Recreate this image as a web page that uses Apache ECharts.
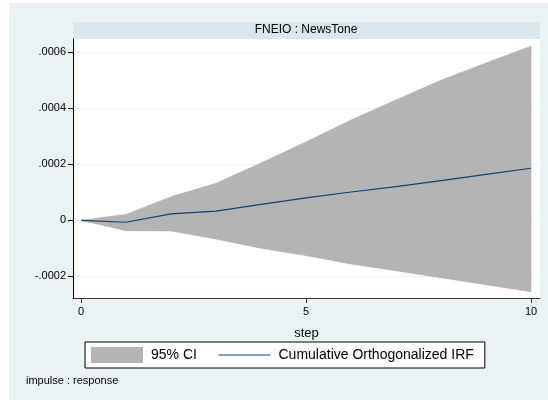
<!DOCTYPE html>
<html>
<head>
<meta charset="utf-8">
<script src="https://cdn.jsdelivr.net/npm/echarts@6/dist/echarts.min.js"></script>
<style>
  html, body { margin: 0; padding: 0; background: #ffffff; }
  #chart { width: 548px; height: 402px; }
</style>
</head>
<body>
<div id="chart"></div>
<script>
// Cumulative orthogonalized impulse response: FNEIO -> NewsTone
const steps = [0, 1, 2, 3, 4, 5, 6, 7, 8, 9, 10];
const irf   = [0, -0.000007, 0.000023, 0.000033, 0.000057, 0.00008, 0.000101, 0.00012, 0.000142, 0.000164, 0.000186];
const ciLow = [0, -0.000037, -0.000038, -0.000067, -0.0001, -0.000126, -0.000156, -0.00018, -0.000205, -0.00023, -0.000255];
const ciHigh = [0, 0.000021, 0.000084, 0.000132, 0.000205, 0.00028, 0.000358, 0.00043, 0.0005, 0.000562, 0.000622];

const yTicks = [-0.0002, 0, 0.0002, 0.0004, 0.0006];
const xTicks = [0, 5, 10];

const panelTitle = 'FNEIO : NewsTone';
const note = 'impulse : response';

const FONT = '"Liberation Sans", Arial, sans-serif';

// Stata-style number label: drop the leading zero
function stataNum(v) {
  if (v === 0) return '0';
  return String(+v.toPrecision(6)).replace(/^(-?)0\./, '$1.');
}

const bandData = steps.map((s, i) => [s, ciLow[i], ciHigh[i]]);
const irfSeries = steps.map((s, i) => [s, irf[i]]);

// Confidence band drawn as one polygon: upper edge forward, lower edge back
function renderBand(params, api) {
  if (params.dataIndex !== 0) return null;
  const upperPts = steps.map((s, i) => api.coord([s, ciHigh[i]]));
  const lowerPts = steps.map((s, i) => api.coord([s, ciLow[i]])).reverse();
  return {
    type: 'polygon',
    shape: { points: upperPts.concat(lowerPts) },
    style: { fill: '#b4b4b4', stroke: '#a9a9a9', lineWidth: 0.6 }
  };
}

const chart = echarts.init(document.getElementById('chart'), null, { renderer: 'canvas' });

chart.setOption({
  backgroundColor: '#ffffff',
  animation: false,
  textStyle: { fontFamily: FONT },
  graphic: [
    {
      type: 'rect', z: -10, silent: true,
      shape: { x: 9, y: 3, width: 539, height: 397 },
      style: { fill: '#eaf2f3' }
    },
    {
      type: 'rect', z: -5, silent: true,
      shape: { x: 73, y: 22, width: 467, height: 17 },
      style: { fill: '#d9e6eb' }
    },
    {
      type: 'text', silent: true,
      x: 26, y: 381,
      style: { text: note, fontSize: 11, fontFamily: FONT, fill: '#000', verticalAlign: 'middle' }
    }
  ],
  title: {
    text: panelTitle,
    left: 306, top: 24,
    textAlign: 'center',
    padding: 0,
    textStyle: { fontSize: 12, fontWeight: 'normal', color: '#000', fontFamily: FONT }
  },
  grid: {
    left: 73, right: 8, top: 39, bottom: 104,
    show: true, backgroundColor: '#ffffff', borderWidth: 0
  },
  legend: {
    left: 85, top: 342,
    orient: 'horizontal',
    padding: [5, 11, 5, 6],
    itemWidth: 52, itemHeight: 16, itemGap: 21,
    backgroundColor: '#ffffff',
    borderColor: '#000000', borderWidth: 1, borderRadius: 0,
    selectedMode: false,
    textStyle: { fontSize: 14, color: '#000', fontFamily: FONT, padding: [0, 0, 0, 3] },
    data: [
      { name: '95% CI', icon: 'rect', itemStyle: { color: '#b4b4b4' } },
      { name: 'Cumulative Orthogonalized IRF', itemStyle: { opacity: 0 }, lineStyle: { width: 1.2, color: '#1a3f6f' } }
    ]
  },
  xAxis: {
    type: 'value',
    min: -0.18, max: 10.2,
    name: 'step', nameLocation: 'middle', nameGap: 29,
    nameTextStyle: { fontSize: 13, color: '#000', fontFamily: FONT },
    axisLine: { show: true, onZero: false, lineStyle: { color: '#333', width: 1 } },
    axisTick: { show: true, length: 5, customValues: xTicks, lineStyle: { color: '#333' } },
    axisLabel: { customValues: xTicks, margin: 8, fontSize: 11, color: '#000', fontFamily: FONT },
    splitLine: { show: false }
  },
  yAxis: {
    type: 'value',
    min: -0.0002775, max: 0.0006475,
    axisLine: { show: true, onZero: false, lineStyle: { color: '#000', width: 1 } },
    axisTick: { show: true, length: 5, customValues: yTicks, lineStyle: { color: '#000' } },
    axisLabel: { customValues: yTicks, margin: 7, fontSize: 11, color: '#000', fontFamily: FONT, formatter: stataNum },
    splitLine: { show: true, lineStyle: { color: '#eaf2f3', width: 1 } }
  },
  series: [
    {
      name: '95% CI', type: 'custom',
      data: bandData,
      encode: { x: 0, y: [1, 2] },
      renderItem: renderBand,
      silent: true,
      color: '#b4b4b4',
      itemStyle: { color: '#b4b4b4' },
      z: 2
    },
    {
      name: 'Cumulative Orthogonalized IRF', type: 'line',
      data: irfSeries,
      symbol: 'none', showSymbol: false, silent: true,
      color: '#1a3f6f',
      lineStyle: { width: 1.2, color: '#1a3f6f' },
      z: 3
    }
  ]
});
</script>
</body>
</html>
